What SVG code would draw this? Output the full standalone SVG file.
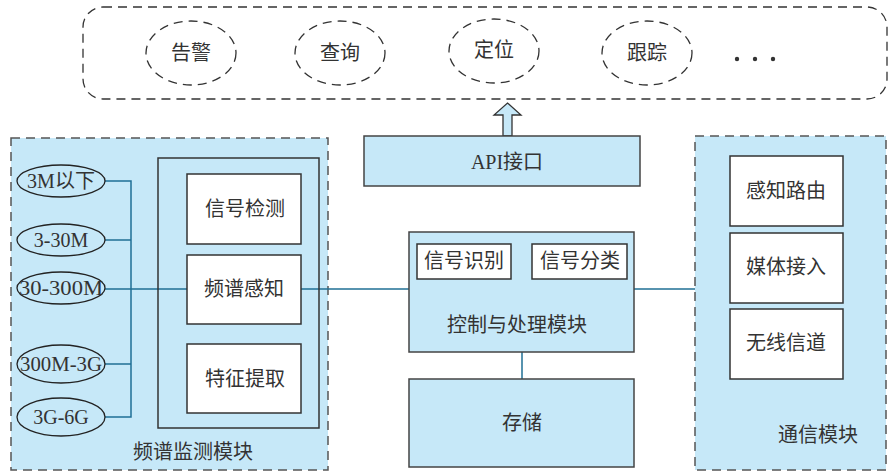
<svg xmlns="http://www.w3.org/2000/svg" width="890" height="472" viewBox="0 0 890 472">
<style>
text{font-family:"Liberation Serif","Noto Sans CJK SC",serif;font-size:20px;fill:#333;text-anchor:middle;dominant-baseline:central}
.dash{fill:none;stroke:#333;stroke-width:1.3;stroke-dasharray:9 6}
.mod{fill:#c6e8f8;stroke:#555;stroke-width:1.5;stroke-dasharray:9 6}
.box{fill:#fff;stroke:#333;stroke-width:1.5}
.bbox{fill:#c6e8f8;stroke:#444;stroke-width:1.5}
.band{fill:#c6e8f8;stroke:#222;stroke-width:1.3}
.wire{fill:none;stroke:#1f6f95;stroke-width:1.5}
</style>
<g id="apps">
<rect class="dash" x="83" y="7" width="804" height="92" rx="20"/>
<g id="alarm"><ellipse class="dash" cx="191" cy="53" rx="45" ry="32"/><text x="191" y="53">告警</text></g>
<g id="query"><ellipse class="dash" cx="340" cy="53" rx="45" ry="32"/><text x="340" y="53">查询</text></g>
<g id="locate"><ellipse class="dash" cx="494" cy="51" rx="45" ry="32"/><text x="494" y="50">定位</text></g>
<g id="track"><ellipse class="dash" cx="647" cy="53" rx="45" ry="32"/><text x="647" y="53">跟踪</text></g>
<g id="more" fill="#333"><circle cx="737" cy="59" r="2.2"/><circle cx="755" cy="59" r="2.2"/><circle cx="773" cy="59" r="2.2"/></g>
</g>
<g id="spectrum-module">
<rect class="mod" x="11" y="138" width="317" height="332"/>
<text x="193" y="452">频谱监测模块</text>
</g>
<g id="comm-module">
<rect class="mod" x="695" y="136" width="191" height="334"/>
<text x="818" y="435">通信模块</text>
</g>
<g id="connectors">
<polyline class="wire" points="105,181 131,181 131,417 105,417"/>
<line class="wire" x1="105" y1="240" x2="131" y2="240"/>
<line class="wire" x1="105" y1="364" x2="131" y2="364"/>
<line class="wire" x1="105" y1="289" x2="187" y2="289"/>
<line class="wire" x1="301" y1="289" x2="409" y2="289"/>
<line class="wire" x1="634" y1="289" x2="695" y2="289"/>
<line class="wire" x1="522" y1="352" x2="522" y2="379"/>
<polygon points="503,136 503,115 494,115 507.5,103 521,115 512,115 512,136" fill="#c6e8f8" stroke="#333" stroke-width="1.3"/>
</g>
<g id="band-3M"><ellipse class="band" cx="61" cy="181" rx="44" ry="16"/><text x="61" y="181">3M以下</text></g>
<g id="band-3-30M"><ellipse class="band" cx="61" cy="240" rx="44" ry="16"/><text x="61" y="240">3-30M</text></g>
<g id="band-30-300M"><ellipse class="band" cx="61" cy="288" rx="44" ry="16"/><text x="61" y="288" textLength="84" lengthAdjust="spacingAndGlyphs">30-300M</text></g>
<g id="band-300M-3G"><ellipse class="band" cx="61" cy="364" rx="44" ry="19"/><text x="61" y="364" textLength="82" lengthAdjust="spacingAndGlyphs">300M-3G</text></g>
<g id="band-3G-6G"><ellipse class="band" cx="61" cy="417" rx="44" ry="19"/><text x="61" y="417">3G-6G</text></g>
<g id="sensing-frame"><rect x="158" y="158" width="161" height="270" fill="none" stroke="#333" stroke-width="1.5"/></g>
<g id="signal-detect"><rect class="box" x="187" y="174" width="114" height="70"/><text x="245" y="209">信号检测</text></g>
<g id="spectrum-sense"><rect class="box" x="187" y="255" width="114" height="69"/><text x="244" y="289">频谱感知</text></g>
<g id="feature"><rect class="box" x="187" y="344" width="114" height="69"/><text x="245" y="379">特征提取</text></g>
<g id="api"><rect class="bbox" x="364" y="136" width="276" height="50"/><text x="507" y="162">API接口</text></g>
<g id="control">
<rect class="bbox" x="409" y="232" width="225" height="120"/>
<text x="517" y="325">控制与处理模块</text>
</g>
<g id="sig-id"><rect class="box" x="417" y="244" width="94" height="35"/><text x="464" y="261">信号识别</text></g>
<g id="sig-class"><rect class="box" x="532" y="244" width="95" height="35"/><text x="580" y="261">信号分类</text></g>
<g id="storage"><rect class="bbox" x="409" y="379" width="225" height="88"/><text x="522" y="423">存储</text></g>
<g id="routing"><rect class="box" x="730" y="156" width="113" height="70"/><text x="786" y="191">感知路由</text></g>
<g id="mac"><rect class="box" x="730" y="233" width="113" height="70"/><text x="786" y="267">媒体接入</text></g>
<g id="channel"><rect class="box" x="730" y="309" width="113" height="70"/><text x="786" y="343">无线信道</text></g>
</svg>
